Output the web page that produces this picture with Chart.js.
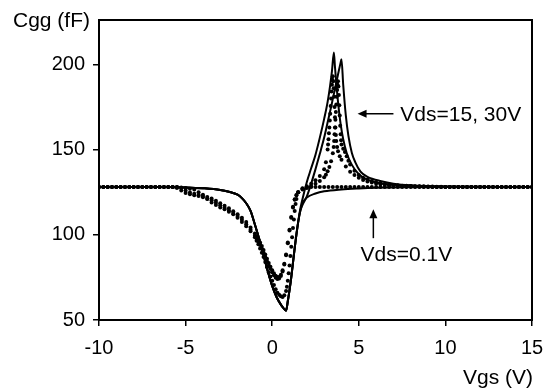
<!DOCTYPE html>
<html>
<head>
<meta charset="utf-8">
<script src="https://cdn.jsdelivr.net/npm/chart.js@4/dist/chart.umd.min.js"></script>
<style>
  html, body { margin: 0; padding: 0; background: #fff; }
  #chart { display: block; }
</style>
</head>
<body>
<canvas id="chart" width="554" height="389"></canvas>
<script>
// axis ranges and ticks
const xTicks = [-10, -5, 0, 5, 10, 15];
const yTicks = [50, 100, 150, 200];
const yMax = 226;

// simulated curves (solid), [Vgs, Cgg]
const simVds01 = [[-10,128],[-6,128],[-5,127.8],[-4,127.3],[-3,126.3],[-2.5,125.2],[-2,123.5],[-1.75,121.5],[-1.5,118.5],[-1.25,114],[-1,106],[-0.75,97.5],[-0.5,88],[-0.25,78.5],[0,70],[0.25,63.5],[0.5,59],[0.65,57],[0.8,55.5],[0.9,61],[1,67.5],[1.1,75],[1.25,88],[1.45,104],[1.6,113],[1.75,118.5],[2,121.8],[2.5,124.2],[3,125.5],[4,126.6],[5,127.2],[6,127.6],[8,127.9],[10,128],[15,128]];
const simVds15 = [[-10,128],[-6,128],[-5,127.8],[-4,127.3],[-3,126.3],[-2.5,125.2],[-2,123.5],[-1.75,121.5],[-1.5,118.5],[-1.25,114],[-1,106],[-0.75,97.5],[-0.5,88],[-0.25,78.5],[0,70],[0.25,63.5],[0.5,59],[0.65,57],[0.8,55.5],[0.9,61],[1,67.5],[1.1,75],[1.25,88],[1.45,104],[1.6,114],[1.75,121],[2,131],[2.25,139],[2.5,147],[2.75,157],[3,168],[3.2,178],[3.35,188],[3.45,196],[3.56,207],[3.62,199],[3.7,189],[3.8,178],[3.95,165],[4.1,156],[4.3,148],[4.6,141],[5,135.5],[5.5,132.3],[6,130.7],[7,129.3],[8,128.7],[10,128.3],[15,128]];
const simVds30 = [[-10,128],[-6,128],[-5,127.8],[-4,127.3],[-3,126.3],[-2.5,125.2],[-2,123.5],[-1.75,121.5],[-1.5,118.5],[-1.25,114],[-1,106],[-0.75,97.5],[-0.5,88],[-0.25,78.5],[0,70],[0.25,63.5],[0.5,59],[0.65,57],[0.8,55.5],[0.9,61],[1,67.5],[1.1,75],[1.25,88],[1.45,104],[1.6,113],[1.75,117.5],[1.9,120.5],[2,122.5],[2.25,130],[2.5,138.5],[2.75,147.5],[3,157],[3.18,165],[3.4,175],[3.6,184.5],[3.8,194],[3.95,201],[4,203],[4.1,188],[4.25,170],[4.4,158],[4.6,148],[4.8,142.5],[5.1,137],[5.5,134],[6.3,131.4],[7,130],[8,129],[10,128.3],[15,128]];

// measured curves (dots), [Vgs, Cgg]
const measVds01 = [[-10,128],[-9.75,128],[-9.5,128],[-9.25,128],[-9,128],[-8.75,128],[-8.5,128],[-8.25,128],[-8,128],[-7.75,128],[-7.5,128],[-7.25,128],[-7,128],[-6.75,128],[-6.5,128],[-6.25,128],[-6,128],[-5.75,128],[-5.5,128],[-5.25,127.8],[-5,127.5],[-4.75,127],[-4.5,126.5],[-4.25,125],[-4,123.5],[-3.75,121],[-3.5,119],[-3.25,117.5],[-3,116],[-2.75,115],[-2.5,113.5],[-2.25,112],[-2,110],[-1.75,107.5],[-1.5,105],[-1.25,102],[-1,98.5],[-0.9,96.5],[-0.8,94.5],[-0.7,92],[-0.6,89.5],[-0.5,87],[-0.4,84],[-0.3,81],[-0.2,78],[-0.1,75.5],[0,73],[0.1,70.5],[0.2,68],[0.3,66],[0.4,64.8],[0.5,64],[0.6,63.5],[0.7,64.5],[0.8,67],[0.85,69.5],[0.9,73],[0.95,77.5],[1,82],[1.05,87.5],[1.1,93],[1.15,98.5],[1.2,104],[1.25,109],[1.3,114],[1.35,118],[1.4,121],[1.5,125],[1.75,127.3],[2,127.8],[2.25,128],[2.5,128],[2.75,128],[3,128],[3.25,128],[3.5,128],[3.75,128],[4,128],[4.25,128],[4.5,128],[4.75,128],[5,128],[5.25,128],[5.5,128],[5.75,128],[6,128],[6.25,128],[6.5,128],[6.75,128],[7,128],[7.25,128],[7.5,128],[7.75,128],[8,128],[8.25,128],[8.5,128],[8.75,128],[9,128],[9.25,128],[9.5,128],[9.75,128],[10,128],[10.25,128],[10.5,128],[10.75,128],[11,128],[11.25,128],[11.5,128],[11.75,128],[12,128],[12.25,128],[12.5,128],[12.75,128],[13,128],[13.25,128],[13.5,128],[13.75,128],[14,128],[14.25,128],[14.5,128],[14.75,128],[15,128]];
const measVds15 = [[-10,128],[-9.75,128],[-9.5,128],[-9.25,128],[-9,128],[-8.75,128],[-8.5,128],[-8.25,128],[-8,128],[-7.75,128],[-7.5,128],[-7.25,128],[-7,128],[-6.75,128],[-6.5,128],[-6.25,128],[-6,128],[-5.75,128],[-5.5,127.5],[-5.25,126],[-5,124.5],[-4.75,123.8],[-4.5,123.2],[-4.25,122.7],[-4,122],[-3.75,121.2],[-3.5,120.2],[-3.25,118.8],[-3,117.3],[-2.75,115.8],[-2.5,114.3],[-2.25,112.8],[-2,111],[-1.75,108.8],[-1.5,106.2],[-1.25,103],[-1,99.5],[-0.9,97.8],[-0.8,96],[-0.7,94],[-0.6,92],[-0.5,89.5],[-0.4,87],[-0.3,84.5],[-0.2,82],[-0.1,80],[0,78],[0.1,76.2],[0.2,74.8],[0.3,74],[0.4,74.3],[0.5,75.8],[0.6,78.5],[0.7,82.5],[0.8,88],[0.9,95],[1,102.5],[1.1,110],[1.2,116],[1.3,120.5],[1.4,123.2],[1.5,125],[1.75,127],[2,128.5],[2.25,130],[2.5,132],[2.75,134.5],[3,138.5],[3.1,142.5],[3.2,150],[3.225,153],[3.25,156],[3.275,159.5],[3.3,163],[3.325,167],[3.35,171],[3.375,175.5],[3.4,180],[3.425,184],[3.45,188],[3.475,191],[3.5,193],[3.525,190],[3.55,186],[3.575,181],[3.6,175],[3.625,169],[3.65,163],[3.675,158.5],[3.7,155],[3.75,151.5],[3.8,149],[3.9,146],[4,144],[4.25,140],[4.5,137],[4.75,135],[5,133.5],[5.25,132.2],[5.5,131.3],[5.75,130.6],[6,130],[6.25,129.6],[6.5,129.3],[6.75,129],[7,128.8],[7.25,128.7],[7.5,128.6],[7.75,128.5],[8,128.4],[8.25,128.3],[8.5,128.3],[8.75,128.2],[9,128.2],[9.25,128.1],[9.5,128.1],[9.75,128.1],[10,128],[10.25,128],[10.5,128],[10.75,128],[11,128],[11.25,128],[11.5,128],[11.75,128],[12,128],[12.25,128],[12.5,128],[12.75,128],[13,128],[13.25,128],[13.5,128],[13.75,128],[14,128],[14.25,128],[14.5,128],[14.75,128],[15,128]];
const measVds30 = [[-10,128],[-9.75,128],[-9.5,128],[-9.25,128],[-9,128],[-8.75,128],[-8.5,128],[-8.25,128],[-8,128],[-7.75,128],[-7.5,128],[-7.25,128],[-7,128],[-6.75,128],[-6.5,128],[-6.25,128],[-6,128],[-5.75,128],[-5.5,128],[-5.25,127.5],[-5,126],[-4.75,124.8],[-4.5,124],[-4.25,123.4],[-4,122.8],[-3.75,122.2],[-3.5,121.3],[-3.25,120],[-3,118.5],[-2.75,117],[-2.5,115.5],[-2.25,113.8],[-2,112],[-1.75,110],[-1.5,107.5],[-1.25,104.3],[-1,100.8],[-0.9,99.2],[-0.8,97.4],[-0.7,95.5],[-0.6,93.4],[-0.5,91],[-0.4,88.5],[-0.3,86],[-0.2,83.5],[-0.1,81.2],[0,79.2],[0.1,77.4],[0.2,76],[0.3,75.2],[0.4,75.3],[0.5,76.6],[0.6,79.2],[0.7,83],[0.8,88.5],[0.9,95.5],[1,103],[1.1,110.5],[1.2,116.5],[1.3,120.8],[1.4,123.4],[1.5,125],[1.75,126.5],[2,127.5],[2.25,128.5],[2.5,130],[2.75,131.6],[3,133.8],[3.1,135.2],[3.2,137.2],[3.3,139.8],[3.4,143.2],[3.5,147.8],[3.55,151.5],[3.575,155],[3.6,159],[3.625,163],[3.65,167.5],[3.675,172],[3.7,176.5],[3.725,181],[3.75,185],[3.775,188],[3.8,190],[3.825,187],[3.85,182],[3.875,176],[3.9,170],[3.925,164],[3.95,159],[3.975,155.5],[4,153],[4.1,150.5],[4.2,148.5],[4.3,146],[4.4,143.5],[4.5,141.2],[4.75,137.5],[5,135],[5.25,133.5],[5.5,132.4],[5.75,131.5],[6,130.8],[6.25,130.2],[6.5,129.8],[6.75,129.5],[7,129.2],[7.25,129],[7.5,128.8],[7.75,128.7],[8,128.6],[8.25,128.5],[8.5,128.4],[8.75,128.4],[9,128.3],[9.25,128.3],[9.5,128.2],[9.75,128.2],[10,128.1],[10.25,128.1],[10.5,128.1],[10.75,128],[11,128],[11.25,128],[11.5,128],[11.75,128],[12,128],[12.25,128],[12.5,128],[12.75,128],[13,128],[13.25,128],[13.5,128],[13.75,128],[14,128],[14.25,128],[14.5,128],[14.75,128],[15,128]];

// labels
const yTitle = 'Cgg (fF)';
const xTitle = 'Vgs (V)';
const labelHigh = 'Vds=15, 30V';
const labelLow = 'Vds=0.1V';

const FONT = '"Liberation Sans", Arial, Helvetica, sans-serif';
Chart.defaults.font.family = FONT;
Chart.defaults.color = '#000';

function toPoints(arr) {
    return arr.map(p => ({ x: p[0], y: p[1] }));
}

function solid(arr) {
    return {
        data: toPoints(arr),
        showLine: true,
        borderColor: '#000',
        borderWidth: 2,
        pointRadius: 0,
        cubicInterpolationMode: 'monotone'
    };
}

function dots(arr) {
    return {
        data: toPoints(arr),
        showLine: false,
        pointRadius: 2,
        pointBorderWidth: 0,
        pointBackgroundColor: '#000',
        pointBorderColor: '#000'
    };
}

function arrowHead(ctx, tx, ty, dx, dy) {
    // dx, dy: unit direction the arrow points to
    const len = 9, half = 4;
    ctx.beginPath();
    ctx.moveTo(tx, ty);
    ctx.lineTo(tx - dx * len - dy * half, ty - dy * len + dx * half);
    ctx.lineTo(tx - dx * len + dy * half, ty - dy * len - dx * half);
    ctx.closePath();
    ctx.fill();
}

// frame, axis titles and the two annotations
const decor = {
    id: 'decor',
    afterDraw(chart) {
        const { ctx, chartArea: a } = chart;
        const xs = chart.scales.x, ys = chart.scales.y;
        ctx.save();
        ctx.strokeStyle = '#000';
        ctx.fillStyle = '#000';
        ctx.lineWidth = 2;
        ctx.strokeRect(a.left, a.top, a.right - a.left, a.bottom - a.top);

        ctx.font = '21px ' + FONT;
        ctx.textBaseline = 'alphabetic';
        ctx.textAlign = 'left';
        ctx.fillText(yTitle, 13, 27);
        ctx.textAlign = 'right';
        ctx.fillText(xTitle, 533, 384);

        // Vds=15, 30V
        const ay = ys.getPixelForValue(171);
        const ax0 = xs.getPixelForValue(7.0), ax1 = xs.getPixelForValue(4.93);
        ctx.lineWidth = 1.5;
        ctx.beginPath();
        ctx.moveTo(ax0, ay);
        ctx.lineTo(ax1 + 6, ay);
        ctx.stroke();
        arrowHead(ctx, ax1, ay, -1, 0);
        ctx.textAlign = 'left';
        ctx.textBaseline = 'middle';
        ctx.fillText(labelHigh, xs.getPixelForValue(7.4), ay + 1);

        // Vds=0.1V
        const bx = xs.getPixelForValue(5.84);
        const by0 = ys.getPixelForValue(98), by1 = ys.getPixelForValue(115);
        ctx.beginPath();
        ctx.moveTo(bx, by0);
        ctx.lineTo(bx, by1 + 6);
        ctx.stroke();
        arrowHead(ctx, bx, by1, 0, -1);
        ctx.fillText(labelLow, xs.getPixelForValue(5.1), ys.getPixelForValue(87.8));
        ctx.restore();
    }
};

new Chart(document.getElementById('chart'), {
    type: 'scatter',
    data: {
        datasets: [
            solid(simVds01), solid(simVds15), solid(simVds30),
            dots(measVds01), dots(measVds15), dots(measVds30)
        ]
    },
    options: {
        responsive: false,
        animation: false,
        layout: { padding: { top: 17, right: 22, left: 0, bottom: 0 } },
        plugins: { legend: { display: false }, tooltip: { enabled: false } },
        scales: {
            x: {
                type: 'linear',
                min: xTicks[0],
                max: xTicks[xTicks.length - 1],
                afterFit(scale) { scale.height = 69; },
                afterBuildTicks(scale) { scale.ticks = xTicks.map(v => ({ value: v })); },
                ticks: { font: { size: 20 }, padding: 10, maxRotation: 0 },
                grid: { drawOnChartArea: false, drawTicks: true, tickLength: 6, color: '#000', lineWidth: 1.5 },
                border: { color: '#000', width: 2 }
            },
            y: {
                type: 'linear',
                min: yTicks[0],
                max: yMax,
                afterFit(scale) { scale.width = 99; },
                afterBuildTicks(scale) { scale.ticks = yTicks.map(v => ({ value: v })); },
                ticks: { font: { size: 20 }, padding: 8 },
                grid: { drawOnChartArea: false, drawTicks: true, tickLength: 6, color: '#000', lineWidth: 1.5 },
                border: { color: '#000', width: 2 }
            }
        }
    },
    plugins: [decor]
});
</script>
</body>
</html>
